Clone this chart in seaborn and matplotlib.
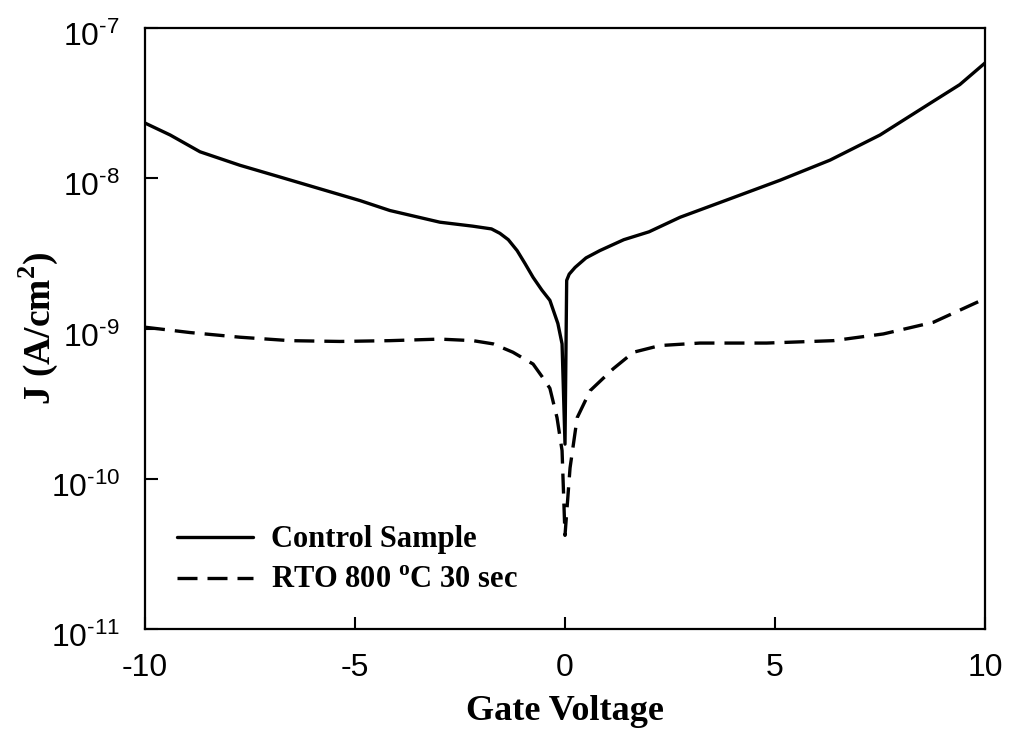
import numpy as np
import pandas as pd
import matplotlib
matplotlib.use("Agg")
import matplotlib.pyplot as plt
import matplotlib.transforms as mtransforms
import seaborn as sns
from matplotlib.ticker import FuncFormatter, FixedLocator, NullLocator

# Gate voltage sweep (V) and leakage current density (A/cm^2)
control_v = [-10.0, -9.4, -8.69, -7.74, -6.79, -5.83, -4.88, -4.17, -2.98, -2.2,
             -1.75, -1.55, -1.35, -1.14, -0.95, -0.76, -0.55, -0.36, -0.17, -0.07,
             0.0, 0.04, 0.1, 0.24, 0.5, 0.83, 1.4, 2.0, 2.74, 3.93,
             5.12, 6.31, 7.5, 8.69, 9.4, 10.0]
control_j = [2.33e-8, 1.94e-8, 1.50e-8, 1.22e-8, 1.02e-8, 8.5e-9, 7.1e-9, 6.1e-9, 5.1e-9, 4.8e-9,
             4.6e-9, 4.3e-9, 3.9e-9, 3.3e-9, 2.7e-9, 2.19e-9, 1.8e-9, 1.54e-9, 1.08e-9, 7.9e-10,
             1.7e-10, 2.09e-9, 2.3e-9, 2.55e-9, 2.95e-9, 3.3e-9, 3.9e-9, 4.4e-9, 5.5e-9, 7.3e-9,
             9.7e-9, 1.32e-8, 1.94e-8, 3.15e-8, 4.2e-8, 5.85e-8]

rto_v = [-10.0, -8.93, -7.74, -6.55, -5.36, -4.17, -2.98, -2.19, -1.71, -1.24,
         -0.76, -0.55, -0.36, -0.19, -0.07, 0.0, 0.12, 0.29, 0.6, 1.15,
         1.63, 2.26, 3.21, 4.8, 6.39, 7.58, 8.77, 10.0]
rto_j = [1.02e-9, 9.4e-10, 8.75e-10, 8.3e-10, 8.2e-10, 8.3e-10, 8.5e-10, 8.3e-10, 7.9e-10, 6.95e-10,
         5.8e-10, 4.8e-10, 4.0e-10, 2.55e-10, 1.54e-10, 4.2e-11, 1.18e-10, 2.55e-10, 3.86e-10, 5.4e-10,
         6.95e-10, 7.7e-10, 8.0e-10, 8.0e-10, 8.3e-10, 9.2e-10, 1.10e-9, 1.58e-9]

series_names = ["Control Sample", r"RTO 800 $^{\mathdefault{o}}$C 30 sec"]
x_ticks = [-10, -5, 0, 5, 10]
y_ticks = [1e-11, 1e-10, 1e-9, 1e-8, 1e-7]

df = pd.concat([
    pd.DataFrame({"V": control_v, "J": control_j, "sample": series_names[0]}),
    pd.DataFrame({"V": rto_v, "J": rto_j, "sample": series_names[1]}),
], ignore_index=True)

sns.set_style("white")
plt.rcParams["font.family"] = ["Liberation Sans", "DejaVu Sans"]
plt.rcParams["mathtext.fontset"] = "custom"
plt.rcParams["mathtext.rm"] = "Liberation Sans"
plt.rcParams["axes.unicode_minus"] = False
for key in ("text.color", "axes.labelcolor", "xtick.color", "ytick.color"):
    plt.rcParams[key] = "black"


def decade_label(value, pos):
    exponent = int(round(np.log10(value)))
    sign = r"\text{-}" if exponent < 0 else ""
    return r"$\mathdefault{10^{%s%d}}$" % (sign, abs(exponent))


fig = plt.figure(figsize=(10.09, 7.33), dpi=100)
ax = fig.add_axes([145 / 1009, 1 - 629 / 733, 840 / 1009, 601 / 733])

sns.lineplot(data=df, x="V", y="J", style="sample", color="black",
             dashes={series_names[0]: "", series_names[1]: (6, 3)},
             linewidth=2.4, estimator=None, sort=False, ax=ax)

ax.set_yscale("log")
ax.set_xlim(-10, 10)
ax.set_ylim(1e-11, 1e-7)

ax.yaxis.set_major_locator(FixedLocator(y_ticks))
ax.yaxis.set_major_formatter(FuncFormatter(decade_label))
ax.yaxis.set_minor_locator(NullLocator())
ax.xaxis.set_major_locator(FixedLocator(x_ticks))

ax.tick_params(axis="both", which="major", direction="in", length=9, width=1.5,
               labelsize=23, labelcolor="black", top=False, right=False, bottom=True, left=True)
ax.tick_params(axis="x", pad=17)
ax.tick_params(axis="y", pad=18)
shift = mtransforms.ScaledTranslation(0, -6 / 100, fig.dpi_scale_trans)
for lbl in ax.get_yticklabels():
    lbl.set_transform(lbl.get_transform() + shift)

for s in ax.spines.values():
    s.set_linewidth(1.6)
    s.set_color("black")

serif = ["Liberation Serif", "DejaVu Serif"]
ax.set_xlabel("Gate Voltage", family=serif, weight="bold", size=26, labelpad=9, color="black")
ax.set_ylabel(r"J (A/cm$^{\mathdefault{2}}$)", family=serif, weight="bold", size=27, color="black")
ax.yaxis.set_label_coords(-0.101, 0.5)

leg = ax.legend(loc="lower left", bbox_to_anchor=(0.005, 0.01), frameon=False,
                prop={"family": serif, "weight": "bold", "size": 22},
                handlelength=2.5, handletextpad=0.6, labelspacing=0.4)
for line in leg.get_lines():
    line.set_linewidth(2.4)
for txt in leg.get_texts():
    txt.set_color("black")

fig.savefig("out.png", dpi=100)
